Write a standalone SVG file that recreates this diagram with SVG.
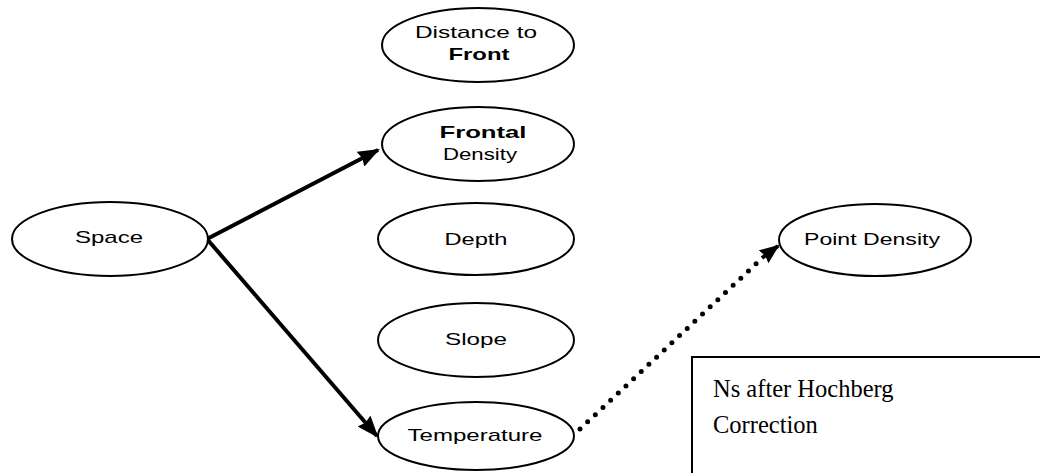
<svg xmlns="http://www.w3.org/2000/svg" width="1040" height="473" viewBox="0 0 1040 473">
<style>
.node ellipse{fill:#fff;stroke:#000;stroke-width:2}
.lbl{font-family:"Liberation Sans",Arial,sans-serif;font-size:17px;fill:#000;text-anchor:middle}
.b{font-weight:bold}
.solid{stroke:#000;stroke-width:4;fill:none}
.dot{stroke:#000;stroke-width:5;fill:none;stroke-linecap:round;stroke-dasharray:0 10.5}
.note{font-family:"Liberation Serif","Times New Roman",serif;font-size:24.5px;fill:#000}
</style>
<defs>
<marker id="ah" viewBox="0 0 10 10" refX="9" refY="5" markerWidth="5.5" markerHeight="4.2" markerUnits="strokeWidth" orient="auto" preserveAspectRatio="none">
<path d="M0,0 L10,5 L0,10 L1,5 z" fill="#000"/>
</marker>
<marker id="ahd" viewBox="0 0 10 10" refX="9" refY="5" markerWidth="5" markerHeight="4" markerUnits="strokeWidth" orient="auto" preserveAspectRatio="none">
<path d="M0,0 L10,5 L0,10 L1,5 z" fill="#000"/>
</marker>
</defs>
<g id="connectors">
<line class="solid" x1="207" y1="239" x2="378" y2="150" marker-end="url(#ah)"/>
<line class="solid" x1="207" y1="239" x2="377" y2="436" marker-end="url(#ah)"/>
<line class="dot" x1="580" y1="429" x2="758" y2="262"/>
<line stroke="#000" stroke-width="4" x1="762" y1="258" x2="778" y2="246" marker-end="url(#ahd)"/>
</g>
<g id="distance" class="node">
<ellipse cx="478" cy="45" rx="96" ry="37"/>
<text class="lbl" x="476" y="38" textLength="122" lengthAdjust="spacingAndGlyphs">Distance to</text>
<text class="lbl b" x="479" y="60" textLength="61" lengthAdjust="spacingAndGlyphs">Front</text>
</g>
<g id="frontal" class="node">
<ellipse cx="478" cy="144" rx="96" ry="37"/>
<text class="lbl b" x="483" y="138" textLength="87" lengthAdjust="spacingAndGlyphs">Frontal</text>
<text class="lbl" x="480" y="160" textLength="74" lengthAdjust="spacingAndGlyphs">Density</text>
</g>
<g id="space" class="node">
<ellipse cx="110" cy="239" rx="98" ry="37"/>
<text class="lbl" x="109" y="243" textLength="68" lengthAdjust="spacingAndGlyphs">Space</text>
</g>
<g id="depth" class="node">
<ellipse cx="476" cy="239" rx="98" ry="36"/>
<text class="lbl" x="476" y="245" textLength="63" lengthAdjust="spacingAndGlyphs">Depth</text>
</g>
<g id="slope" class="node">
<ellipse cx="476" cy="340" rx="98" ry="37"/>
<text class="lbl" x="476" y="345" textLength="62" lengthAdjust="spacingAndGlyphs">Slope</text>
</g>
<g id="temperature" class="node">
<ellipse cx="476" cy="436" rx="98" ry="34"/>
<text class="lbl" x="475" y="441" textLength="135" lengthAdjust="spacingAndGlyphs">Temperature</text>
</g>
<g id="pointdensity" class="node">
<ellipse cx="875" cy="240" rx="96" ry="36"/>
<text class="lbl" x="872" y="245" textLength="136" lengthAdjust="spacingAndGlyphs">Point Density</text>
</g>
<g id="note">
<rect x="692" y="357" width="360" height="130" fill="#fff" stroke="#000" stroke-width="2"/>
<text class="note" x="713" y="397">Ns after Hochberg</text>
<text class="note" x="713" y="433">Correction</text>
</g>
</svg>
